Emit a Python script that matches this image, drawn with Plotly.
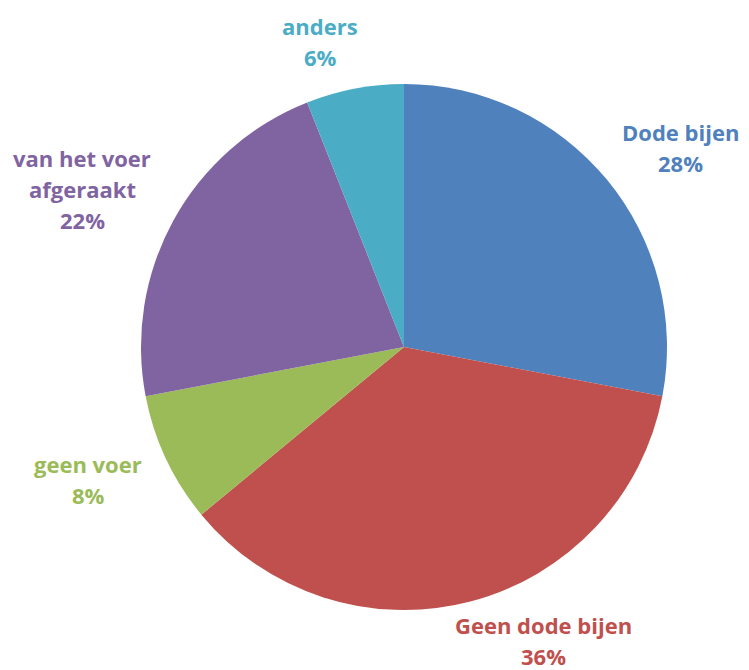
import math
import plotly.graph_objects as go

labels = ["Dode bijen", "Geen dode bijen", "geen voer", "van het voer<br>afgeraakt", "anders"]
values = [28, 36, 8, 22, 6]
colors = ["#4F81BD", "#C0504D", "#9BBB59", "#8064A2", "#4BACC6"]

W, H = 749, 670
# pie centre / radius in figure pixels
cx, cy, R = 396, 339, 263
# label placement: common distance from the centre plus small per-label nudges (px)
label_dist = 340
label_nudge = [(15, 17), (55, -36), (-8, -12), (-24, 6), (-20, 28)]
line_gap = 31
font_size = 22

fig = go.Figure(go.Pie(
    labels=labels,
    values=values,
    sort=False,
    direction="clockwise",
    rotation=0,
    marker=dict(colors=colors, line=dict(width=0)),
    textinfo="none",
    showlegend=False,
    hoverinfo="label+percent",
    domain=dict(x=[(cx - R) / W, (cx + R) / W], y=[(H - cy - R) / H, (H - cy + R) / H]),
))

total = sum(values)
cum = 0
annotations = []
for lab, val, col, (dx, dy) in zip(labels, values, colors, label_nudge):
    mid = (cum + val / 2) / total * 2 * math.pi
    cum += val
    px = cx + label_dist * math.sin(mid) + dx
    py = cy - label_dist * math.cos(mid) + dy
    pct = round(val / total * 100)
    lines = lab.split("<br>") + [f"{pct}%"]
    n = len(lines)
    for i, line in enumerate(lines):
        ly = py + (i - (n - 1) / 2) * line_gap
        annotations.append(dict(
            x=px / W, y=1 - ly / H, xref="paper", yref="paper",
            xanchor="center", yanchor="middle", align="center",
            text=line, showarrow=False,
            font=dict(family="Open Sans", size=font_size, color=col, weight="bold"),
        ))

fig.update_layout(
    width=W, height=H,
    margin=dict(l=0, r=0, t=0, b=0),
    paper_bgcolor="white",
    plot_bgcolor="white",
    annotations=annotations,
)

fig.write_html("out.html")
